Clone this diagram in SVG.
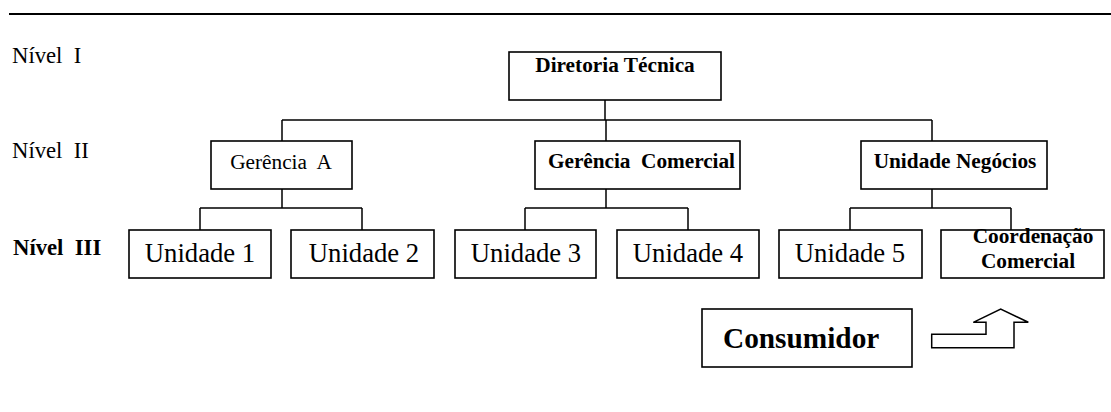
<svg xmlns="http://www.w3.org/2000/svg" width="1111" height="412" viewBox="0 0 1111 412">
<style>
.box{fill:#fff;stroke:#000;stroke-width:1.6}
.ln{fill:none;stroke:#000;stroke-width:1.5}
.t{font-family:"Liberation Serif","Times New Roman",serif;fill:#000}
.b{font-weight:bold}
.c{text-anchor:middle}
</style>
<rect width="1111" height="412" fill="#fff"/>
<line x1="9" y1="14" x2="1111" y2="14" stroke="#000" stroke-width="1.8"/>
<g id="labels">
<text class="t" x="12" y="63" font-size="22.7" xml:space="preserve">Nível  I</text>
<text class="t" x="12" y="158" font-size="22.7" xml:space="preserve">Nível  II</text>
<text class="t b" x="13" y="255" font-size="22.7" xml:space="preserve">Nível  III</text>
</g>
<g id="connectors" class="ln">
<path d="M605,100 V120 M282,120 H932 M282,120 V141 M606,120 V141 M932,120 V141"/>
<path d="M282,189 V208 M200,208 H362 M200,208 V230 M362,208 V230"/>
<path d="M606,189 V208 M525,208 H688 M525,208 V230 M688,208 V230"/>
<path d="M932,189 V208 M850,208 H1011 M850,208 V230 M1011,208 V230"/>
</g>
<g id="diretoria"><rect class="box" x="509" y="52" width="212" height="48"/><text class="t b c" x="615" y="72" font-size="21.3">Diretoria Técnica</text></g>
<g id="gerenciaA"><rect class="box" x="211" y="141" width="141" height="48"/><text class="t c" x="281" y="169" font-size="21.3" xml:space="preserve">Gerência  A</text></g>
<g id="gerenciaComercial"><rect class="box" x="535" y="141" width="205" height="48"/><text class="t b" x="548" y="168" font-size="21.3" textLength="187" xml:space="preserve">Gerência  Comercial</text></g>
<g id="unidadeNegocios"><rect class="box" x="861" y="141" width="186" height="48"/><text class="t b c" x="955" y="168" font-size="21.3">Unidade Negócios</text></g>
<g id="u1"><rect class="box" x="129" y="230" width="142" height="48"/><text class="t c" x="200" y="262" font-size="26.7">Unidade 1</text></g>
<g id="u2"><rect class="box" x="291" y="230" width="143" height="48"/><text class="t c" x="364" y="262" font-size="26.7">Unidade 2</text></g>
<g id="u3"><rect class="box" x="455" y="230" width="141" height="48"/><text class="t c" x="526" y="262" font-size="26.7">Unidade 3</text></g>
<g id="u4"><rect class="box" x="617" y="230" width="142" height="48"/><text class="t c" x="688" y="262" font-size="26.7">Unidade 4</text></g>
<g id="u5"><rect class="box" x="779" y="230" width="143" height="48"/><text class="t c" x="850" y="262" font-size="26.7">Unidade 5</text></g>
<g id="coordenacao"><rect class="box" x="941" y="230" width="163" height="48"/><text class="t b c" x="1033" y="243" font-size="21.3">Coordenação</text><text class="t b c" x="1028" y="268" font-size="21.3">Comercial</text></g>
<g id="consumidor"><rect class="box" x="702" y="309" width="210" height="58"/><text class="t b" x="723" y="348" font-size="29.3">Consumidor</text></g>
<g id="arrow"><polygon class="ln" points="931.7,347.7 931.7,334.3 986,334.3 986,322.3 973.3,322.3 1000.7,309 1028.3,322.3 1014,322.3 1014,347.7"/></g>
</svg>
